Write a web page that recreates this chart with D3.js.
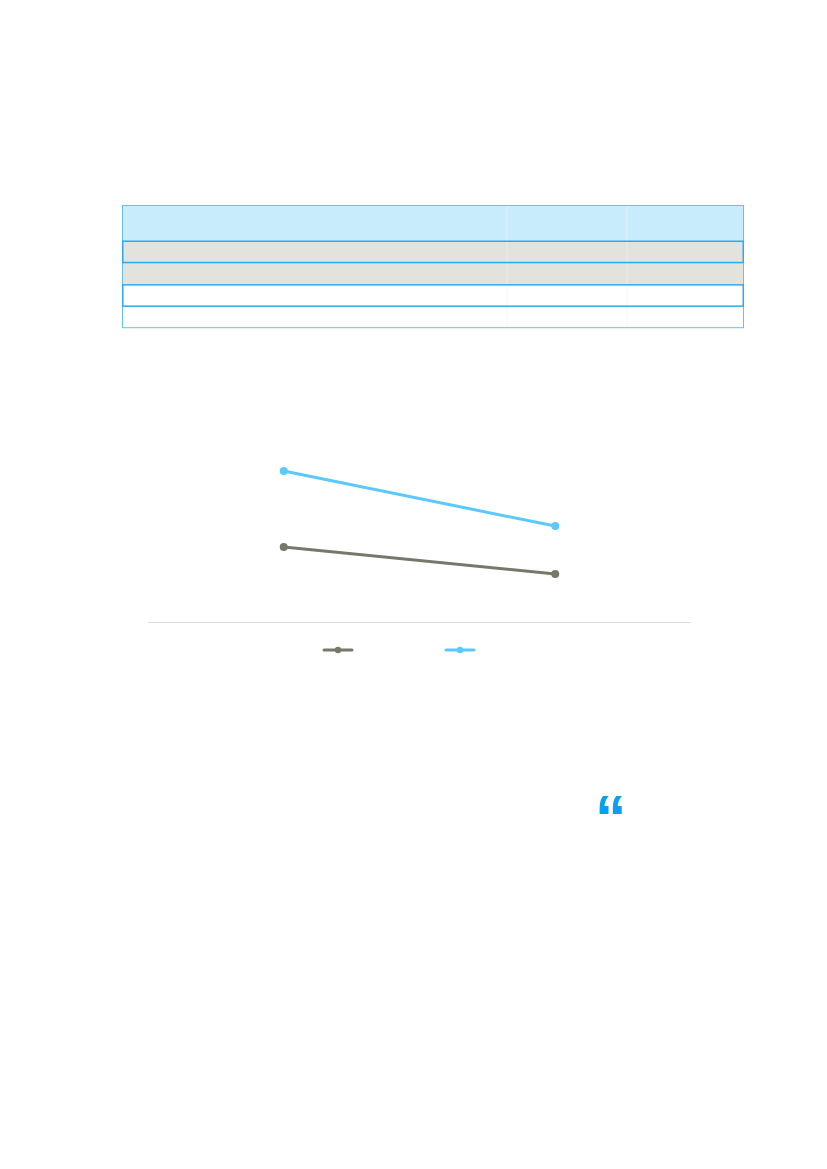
<!DOCTYPE html>
<html>
<head>
<meta charset="utf-8">
<script src="https://cdn.jsdelivr.net/npm/d3@7/dist/d3.min.js"></script>
<style>
  html, body { margin: 0; padding: 0; background: #ffffff; }
  svg { display: block; }
</style>
</head>
<body>
<div id="chart"></div>
<script>
// ---- data ----
const categories = ["Period 1", "Period 2"];
const seriesNames = ["Series A", "Series B"];
const seriesA = [34.1, 21.8];
const seriesB = [68.6, 43.6];
const tableColumns = ["Column 1", "Column 2", "Column 3"];
const tableRowIds = ["row1", "row2", "row3", "row4"];
const highlightedRows = ["row1", "row3"];
const shadedRows = ["row1", "row2"];

// ---- layout ----
const W = 827, H = 1169;
const svg = d3.select("#chart").append("svg").attr("width", W).attr("height", H);

// Table
const tbl = { x0: 122, x1: 744, top: 205, headerH: 36, rowH: 21.8 };
const colX = d3.scaleOrdinal().domain(tableColumns).range([122, 507, 627]);
const rowY = d3.scaleBand().domain(tableRowIds)
  .range([tbl.top + tbl.headerH, tbl.top + tbl.headerH + tbl.rowH * tableRowIds.length]);
const tableBottom = rowY.range()[1];
const g = svg.append("g");

g.append("rect").attr("x", tbl.x0).attr("y", tbl.top).attr("width", tbl.x1 - tbl.x0)
  .attr("height", tbl.headerH).attr("fill", "#c9ecfd");
g.selectAll("rect.row").data(tableRowIds).join("rect").attr("class", "row")
  .attr("x", tbl.x0).attr("y", d => rowY(d)).attr("width", tbl.x1 - tbl.x0)
  .attr("height", rowY.bandwidth())
  .attr("fill", d => shadedRows.includes(d) ? "#e2e3dd" : "#ffffff");
// column dividers
g.selectAll("line.col").data(tableColumns.slice(1)).join("line").attr("class", "col")
  .attr("x1", d => colX(d)).attr("x2", d => colX(d))
  .attr("y1", tbl.top).attr("y2", tableBottom)
  .attr("stroke", "#f2f4f2").attr("stroke-width", 1).attr("opacity", 0.7);
// outer border
g.append("rect").attr("x", tbl.x0 + 0.5).attr("y", tbl.top + 0.5)
  .attr("width", tbl.x1 - tbl.x0 - 1).attr("height", tableBottom - tbl.top - 1)
  .attr("fill", "none").attr("stroke", "#62c2f2").attr("stroke-width", 1);
// highlighted rows
g.selectAll("rect.hl").data(highlightedRows).join("rect").attr("class", "hl")
  .attr("x", tbl.x0 + 0.75).attr("y", d => rowY(d) + 0.25)
  .attr("width", tbl.x1 - tbl.x0 - 1.5).attr("height", rowY.bandwidth() - 0.5)
  .attr("fill", "none").attr("stroke", "#2aaaf2").attr("stroke-width", 1.5);

// Line chart
const plot = { left: 148, right: 691, top: 402, bottom: 622 };
const x = d3.scalePoint().domain(categories).range([plot.left, plot.right]).padding(0.5);
const y = d3.scaleLinear().domain([0, 100]).range([plot.bottom, plot.top]);

const axis = svg.append("g").attr("transform", `translate(0,${plot.bottom})`)
  .call(d3.axisBottom(x).tickSize(0).tickFormat(""));
axis.select(".domain").attr("stroke", "#dddddd").attr("stroke-width", 1)
  .attr("d", `M${plot.left},0.5H${plot.right}`);

const series = [
  { name: seriesNames[0], values: seriesA, color: "#78776a" },
  { name: seriesNames[1], values: seriesB, color: "#5cc8fb" }
];
const line = d3.line().x((d, i) => x(categories[i])).y(d => y(d));
const sg = svg.selectAll("g.series").data(series).join("g").attr("class", "series");
sg.append("path").attr("d", d => line(d.values)).attr("fill", "none")
  .attr("stroke", d => d.color).attr("stroke-width", 3);
sg.selectAll("circle").data(d => d.values.map(v => ({ v, color: d.color })))
  .join("circle").attr("cx", (d, i) => x(categories[i])).attr("cy", d => y(d.v))
  .attr("r", 4).attr("fill", d => d.color);

// Legend
const legendX = d3.scaleOrdinal().domain(seriesNames).range([324, 446]);
const lg = svg.selectAll("g.legend").data(series).join("g").attr("class", "legend")
  .attr("transform", d => `translate(${legendX(d.name)},650)`);
lg.append("line").attr("x1", 0).attr("x2", 28).attr("y1", 0).attr("y2", 0)
  .attr("stroke", d => d.color).attr("stroke-width", 3).attr("stroke-linecap", "round");
lg.append("circle").attr("cx", 14).attr("cy", 0).attr("r", 3.2).attr("fill", d => d.color);

// Quote mark
svg.append("text").attr("x", 595).attr("y", 839)
  .attr("font-family", "Liberation Sans").attr("font-weight", 700).attr("font-size", 63)
  .attr("fill", "#0aa0ee").text("\u201C");
</script>
</body>
</html>
